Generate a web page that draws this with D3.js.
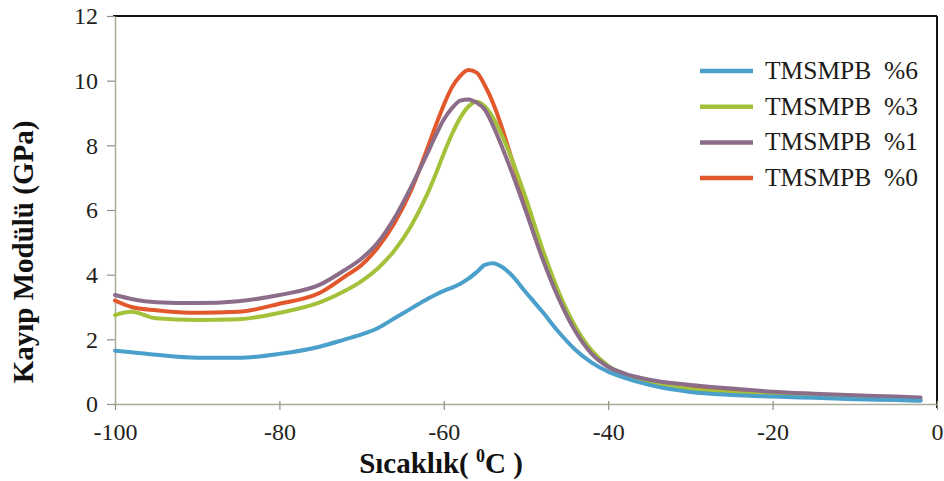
<html>
<head>
    <title>Kayip Modulu</title>
    <script src="https://cdnjs.cloudflare.com/ajax/libs/d3/7.8.5/d3.min.js"></script>
    <style>
        body { margin: 0; background: #fff; }
        svg text { font-family: "Liberation Serif", "DejaVu Serif", serif !important; }
    </style>
</head>
<body>
    <svg width="944" height="481"></svg>

    <script>
        // temperature (C) sampled along the curves
        const temps = [-100, -98, -95, -90, -85, -80, -75, -72, -70, -68, -66, -64, -62, -61, -60, -59, -58, -57,
                       -56, -55, -54, -53, -52, -50, -48, -46, -44, -42, -40, -38, -35, -30, -25, -20, -15, -10,
                       -5, -2];

        // loss modulus (GPa)
        const tmsmpb6 = [1.65, 1.6, 1.52, 1.43, 1.43, 1.55, 1.78, 2.0, 2.15, 2.35, 2.65, 2.95, 3.25, 3.38, 3.5, 3.6,
                         3.72, 3.88, 4.08, 4.3, 4.35, 4.25, 4.05, 3.45, 2.85, 2.22, 1.68, 1.28, 1.0, 0.81, 0.59,
                         0.37, 0.28, 0.23, 0.19, 0.15, 0.12, 0.1];
        const tmsmpb3 = [2.75, 2.85, 2.65, 2.6, 2.62, 2.82, 3.15, 3.5, 3.8, 4.2, 4.75, 5.5, 6.5, 7.1, 7.75, 8.35,
                         8.85, 9.2, 9.35, 9.2, 8.85, 8.35, 7.75, 6.35, 4.8, 3.45, 2.4, 1.65, 1.18, 0.92, 0.68,
                         0.46, 0.35, 0.28, 0.22, 0.18, 0.15, 0.13];
        const tmsmpb1 = [3.37, 3.25, 3.15, 3.12, 3.18, 3.37, 3.7, 4.15, 4.5, 5.0, 5.75, 6.7, 7.75, 8.3, 8.8, 9.15,
                         9.38, 9.42, 9.32, 9.1, 8.6, 8.0, 7.35, 5.95, 4.5, 3.25, 2.25, 1.55, 1.15, 0.94, 0.75,
                         0.59, 0.48, 0.38, 0.32, 0.27, 0.23, 0.2];
        const tmsmpb0 = [3.2, 3.0, 2.9, 2.82, 2.85, 3.1, 3.45, 3.95, 4.3, 4.85, 5.6, 6.6, 7.9, 8.6, 9.25, 9.8,
                         10.15, 10.33, 10.25, 9.85, 9.3, 8.6, 7.8, 6.15, 4.6, 3.3, 2.3, 1.58, 1.15, 0.9, 0.69,
                         0.52, 0.4, 0.31, 0.25, 0.2, 0.15, 0.12];

        const xTicks = [-100, -80, -60, -40, -20, 0];
        const yTicks = [0, 2, 4, 6, 8, 10, 12];

        const legendNames = ['TMSMPB  %6', 'TMSMPB  %3', 'TMSMPB  %1', 'TMSMPB  %0'];
        const legendColors = ['#4a9fcb', '#a3c23a', '#8c6d89', '#e2572c'];

        function makeChart() {
            const svg = d3.select("svg"),
                margin = {top: 16, right: 7, bottom: 77, left: 115},
                width = svg.attr("width") - margin.left - margin.right,
                height = svg.attr("height") - margin.top - margin.bottom;

            const xScale = d3.scaleLinear().domain([-100, 0]).range([0, width]);
            const yScale = d3.scaleLinear().domain([0, 12]).range([height, 0]);

            const g = svg.append("g").attr("transform", "translate(" + margin.left + "," + margin.top + ")");

            // frame: black on top and right
            g.append("line").attr("x1", -2).attr("x2", width).attr("y1", 0).attr("y2", 0)
                .attr("stroke", "#111").attr("stroke-width", 2);
            g.append("line").attr("x1", width).attr("x2", width).attr("y1", 0).attr("y2", height + 4)
                .attr("stroke", "#111").attr("stroke-width", 2);

            const xAxis = g.append("g").attr("transform", "translate(0," + height + ")")
                .call(d3.axisBottom(xScale).tickValues(xTicks).tickSize(6).tickSizeOuter(0).tickFormat(d => String(d)));
            xAxis.selectAll(".tick line").attr("y1", -3);
            xAxis.selectAll(".tick text").attr("y", 36).attr("dy", 0);

            g.append("g")
                .call(d3.axisLeft(yScale).tickValues(yTicks).tickSize(8).tickSizeOuter(0).tickPadding(9));

            g.selectAll(".domain").attr("stroke", "#a9ad9a").attr("stroke-width", 1.5);
            g.selectAll(".tick line").attr("stroke", "#8f927f").attr("stroke-width", 1.2);
            g.selectAll(".tick text").attr("fill", "#231f1c").style("font-size", "24px");

            // curves, drawn bottom layer first
            const series = [
                {values: tmsmpb0, color: legendColors[3]},
                {values: tmsmpb3, color: legendColors[1]},
                {values: tmsmpb1, color: legendColors[2]},
                {values: tmsmpb6, color: legendColors[0]}
            ];
            const line = d3.line()
                .x((d, i) => xScale(temps[i]))
                .y(d => yScale(d))
                .curve(d3.curveMonotoneX);

            g.selectAll("path.curve")
                .data(series)
                .enter()
                .append("path")
                .attr("class", "curve")
                .attr("d", d => line(d.values))
                .attr("fill", "none")
                .attr("stroke", d => d.color)
                .attr("stroke-width", 4)
                .attr("stroke-linecap", "round");

            // legend
            const legend = svg.append("g").attr("transform", "translate(700,71)");
            const item = legend.selectAll("g")
                .data(legendNames)
                .enter()
                .append("g")
                .attr("transform", (d, i) => "translate(0," + (i * 35.7) + ")");
            item.append("line")
                .attr("x1", 0).attr("x2", 53)
                .attr("stroke", (d, i) => legendColors[i])
                .attr("stroke-width", 4.5);
            item.append("text")
                .attr("x", 65).attr("y", 8)
                .style("font-size", "25.5px")
                .style("white-space", "pre")
                .attr("fill", "#1d1b17")
                .text(d => d);

            // axis titles
            svg.append("text")
                .attr("transform", "translate(33,252) rotate(-90)")
                .attr("text-anchor", "middle")
                .style("font-size", "29px").style("font-weight", "bold")
                .attr("fill", "#111")
                .text("Kayıp Modülü (GPa)");

            const xt = svg.append("text")
                .attr("x", 441).attr("y", 473)
                .attr("text-anchor", "middle")
                .style("font-size", "29px").style("font-weight", "bold")
                .style("white-space", "pre")
                .attr("fill", "#111");
            xt.append("tspan").text("Sıcaklık( ");
            xt.append("tspan").attr("dy", -11).style("font-size", "18px").text("0");
            xt.append("tspan").attr("dy", 11).text("C )");
        }

        makeChart();
    </script>
</body>
</html>
